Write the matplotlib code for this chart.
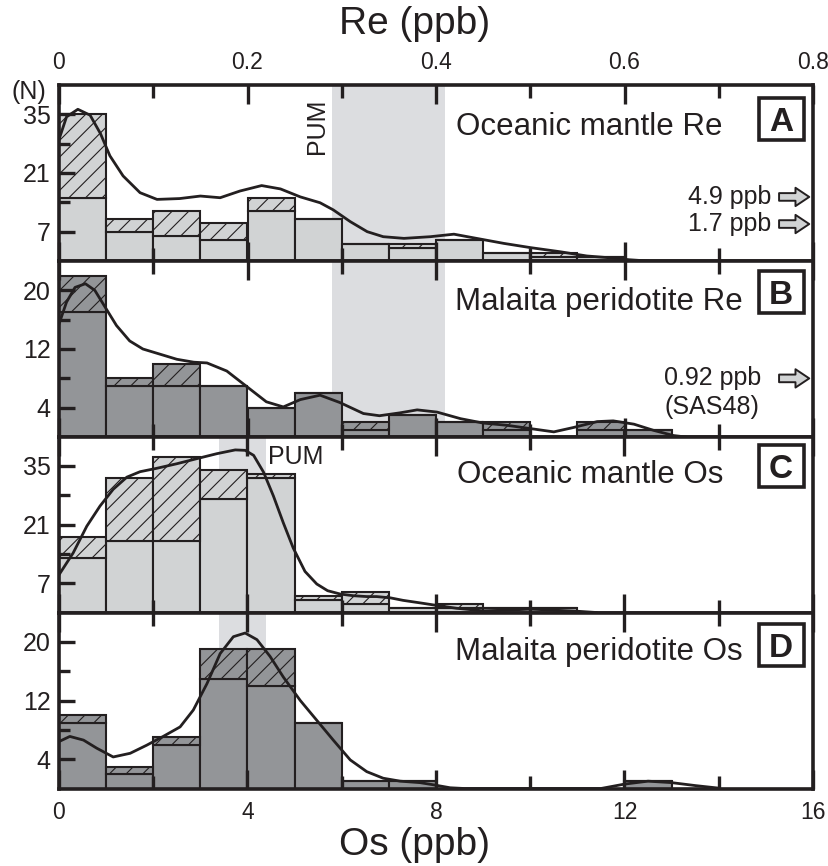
import matplotlib
matplotlib.use("Agg")
import matplotlib.pyplot as plt
from matplotlib.patches import Rectangle

plt.rcParams['font.family'] = ['Liberation Sans', 'DejaVu Sans']
plt.rcParams['hatch.linewidth'] = 0.8
plt.rcParams['hatch.color'] = '#231f20'

INK = '#231f20'
LIGHT = '#d1d3d4'
DARK = '#939598'
BAND = '#dcdde0'

# ---- histogram data (counts per bin) ----
re_left = [0.00, 0.05, 0.10, 0.15, 0.20, 0.25, 0.30, 0.35, 0.40, 0.45, 0.50, 0.55, 0.60, 0.65, 0.70, 0.75]
os_left = [0, 1, 2, 3, 4, 5, 6, 7, 8, 9, 10, 11, 12, 13, 14, 15]

ocean_re_total = [35, 10, 12, 9, 15, 10, 4, 4, 5, 2, 2, 1, 0, 0, 0, 0]
ocean_re_solid = [15, 7, 6, 5, 12, 10, 4, 3, 5, 2, 1, 1, 0, 0, 0, 0]
malaita_re_total = [22, 8, 10, 7, 4, 6, 2, 3, 2, 2, 0, 2, 1, 0, 0, 0]
malaita_re_solid = [17, 7, 7, 7, 4, 6, 1, 3, 2, 1, 0, 1, 1, 0, 0, 0]
ocean_os_total = [18, 32, 37, 34, 33, 4, 5, 1, 2, 1, 1, 0, 0, 0, 0, 0]
ocean_os_solid = [13, 17, 17, 27, 32, 3, 2, 1, 1, 1, 1, 0, 0, 0, 0, 0]
malaita_os_total = [10, 3, 7, 19, 19, 9, 1, 1, 0, 0, 0, 0, 1, 0, 0, 0]
malaita_os_solid = [9, 2, 6, 15, 14, 9, 1, 1, 0, 0, 0, 0, 1, 0, 0, 0]

# ---- density curves ----
ocean_re_kx = [0.0, 0.008, 0.020, 0.033, 0.044, 0.054, 0.068, 0.086, 0.104, 0.128, 0.150, 0.171, 0.192,
               0.215, 0.235, 0.256, 0.277, 0.291, 0.309, 0.327, 0.344, 0.366, 0.394, 0.419, 0.443, 0.472,
               0.500, 0.532, 0.560, 0.588, 0.605, 0.625]
ocean_re_ky = [29.0, 34.4, 36.2, 34.8, 30.4, 25.1, 20.3, 16.3, 14.7, 14.9, 15.5, 15.1, 16.7,
               18.0, 17.2, 15.3, 13.9, 12.2, 9.4, 7.0, 5.8, 5.4, 5.8, 6.4, 5.4, 4.2,
               3.2, 2.2, 1.2, 0.7, 0.3, 0.0]
malaita_re_kx = [0.0, 0.008, 0.017, 0.028, 0.038, 0.049, 0.061, 0.075, 0.089, 0.107, 0.125, 0.143, 0.157,
                 0.178, 0.199, 0.220, 0.238, 0.256, 0.277, 0.298, 0.323, 0.340, 0.362, 0.380, 0.401, 0.426,
                 0.450, 0.475, 0.500, 0.525, 0.546, 0.571, 0.588, 0.610, 0.631, 0.652, 0.665]
malaita_re_ky = [15.4, 18.4, 20.4, 20.9, 20.0, 17.7, 15.2, 13.1, 12.0, 11.3, 10.6, 10.2, 10.1,
                 9.0, 6.9, 4.8, 4.1, 5.1, 5.7, 4.7, 3.2, 2.9, 3.3, 3.7, 3.4, 2.5,
                 1.9, 1.6, 1.15, 0.7, 1.3, 2.1, 2.2, 1.75, 0.9, 0.2, 0.0]
ocean_os_kx = [0.0, 0.30, 0.59, 0.87, 1.15, 1.44, 1.72, 2.07, 2.50, 2.92, 3.35, 3.74, 3.95, 4.13, 4.34,
               4.55, 4.76, 4.97, 5.22, 5.47, 5.70, 5.97, 6.25, 6.53, 6.74, 7.03, 7.30, 7.66, 7.95, 8.44,
               9.0, 9.58, 10.0, 10.42, 11.0, 11.4]
ocean_os_ky = [9.0, 14.2, 20.6, 25.4, 29.4, 32.3, 33.6, 34.4, 35.5, 36.7, 37.9, 38.8, 38.7, 37.5, 33.5,
               27.8, 21.4, 15.4, 9.8, 6.8, 5.2, 4.4, 4.0, 3.8, 3.8, 3.5, 2.9, 2.3, 1.8, 1.0,
               0.4, 0.6, 0.8, 0.6, 0.3, 0.0]
malaita_os_kx = [0.0, 0.23, 0.52, 0.80, 1.15, 1.51, 1.86, 2.21, 2.57, 2.85, 3.14, 3.42, 3.70, 3.95, 4.20,
                 4.48, 4.76, 5.12, 5.47, 5.82, 6.18, 6.53, 6.88, 7.24, 7.66, 7.95, 8.3, 8.6, 11.5, 12.0,
                 12.5, 13.0, 13.5, 14.0]
malaita_os_ky = [6.4, 7.1, 6.6, 5.5, 4.3, 4.8, 5.9, 7.1, 8.4, 10.7, 14.3, 18.4, 20.7, 21.2, 20.3,
                 18.0, 15.2, 12.0, 9.3, 6.6, 3.9, 2.3, 1.4, 1.0, 0.8, 0.5, 0.1, 0.0, 0.0, 0.6,
                 1.0, 0.8, 0.4, 0.05]

re_pum = (0.29, 0.41)
os_pum = (3.4, 4.4)

panels = [
    dict(left=re_left, width=0.05, total=ocean_re_total, solid=ocean_re_solid, fill=LIGHT,
         kx=ocean_re_kx, ky=ocean_re_ky, xlim=(0, 0.8), ylim=(0, 42), yt=[7, 21, 35], ym=[14, 28],
         band=re_pum, title='Oceanic mantle Re', tx=0.8806, ty=0.716, letter='A', ly=0.807),
    dict(left=re_left, width=0.05, total=malaita_re_total, solid=malaita_re_solid, fill=DARK,
         kx=malaita_re_kx, ky=malaita_re_ky, xlim=(0, 0.8), ylim=(0, 24), yt=[4, 12, 20], ym=[8, 16],
         band=re_pum, title='Malaita peridotite Re', tx=0.907, ty=0.721, letter='B', ly=0.823),
    dict(left=os_left, width=1, total=ocean_os_total, solid=ocean_os_solid, fill=LIGHT,
         kx=ocean_os_kx, ky=ocean_os_ky, xlim=(0, 16), ylim=(0, 42), yt=[7, 21, 35], ym=[14, 28],
         band=os_pum, title='Oceanic mantle Os', tx=0.8806, ty=0.734, letter='C', ly=0.832),
    dict(left=os_left, width=1, total=malaita_os_total, solid=malaita_os_solid, fill=DARK,
         kx=malaita_os_kx, ky=malaita_os_ky, xlim=(0, 16), ylim=(0, 24), yt=[4, 12, 20], ym=[8, 16],
         band=os_pum, title='Malaita peridotite Os', tx=0.907, ty=0.730, letter='D', ly=0.815),
]

W, H = 829, 866
fig = plt.figure(figsize=(W / 100, H / 100), dpi=100)
x0, x1 = 59, 813
tops = [85, 261, 436.5, 612.5]
ph = 176

axes = []
for i, p in enumerate(panels):
    ax = fig.add_axes([x0 / W, 1 - (tops[i] + ph) / H, (x1 - x0) / W, ph / H])
    axes.append(ax)
    ax.axvspan(*p['band'], color=BAND, lw=0, zorder=0)
    hatched = [t - s for t, s in zip(p['total'], p['solid'])]
    ax.bar(p['left'], p['solid'], width=p['width'], align='edge', color=p['fill'],
           edgecolor=INK, linewidth=1.5, zorder=1)
    ax.bar(p['left'], hatched, bottom=p['solid'], width=p['width'], align='edge', color=p['fill'],
           edgecolor=INK, linewidth=1.5, hatch='//', zorder=1)
    ax.plot(p['kx'], p['ky'], color=INK, lw=2.0, zorder=3)
    ax.set_xlim(*p['xlim'])
    ax.set_ylim(*p['ylim'])

    span = p['xlim'][1]
    ax.set_xticks([span * k / 4 for k in range(5)])
    ax.set_xticks([span * (2 * k + 1) / 8 for k in range(4)], minor=True)
    ax.set_yticks(p['yt'])
    ax.set_yticks(p['ym'], minor=True)
    ax.tick_params(axis='x', which='both', direction='in', top=True, bottom=True,
                   width=2.4, color=INK, labelbottom=False, labeltop=False)
    ax.tick_params(axis='x', which='major', length=13.5)
    ax.tick_params(axis='x', which='minor', length=9.5)
    ax.tick_params(axis='y', which='both', direction='in', left=True, right=False,
                   width=2.4, color=INK, labelsize=18, labelcolor=INK, pad=6)
    ax.tick_params(axis='y', which='major', length=11.5)
    ax.tick_params(axis='y', which='minor', length=8)
    for s in ax.spines.values():
        s.set_linewidth(2.6)
        s.set_color(INK)
        s.set_zorder(5)

    ax.text(p['tx'], p['ty'], p['title'], transform=ax.transAxes, ha='right', va='baseline',
            fontsize=22.5, color=INK)
    bw, bh = 45 / (x1 - x0), 42 / ph
    ax.add_patch(Rectangle((0.9576 - bw / 2, p['ly'] - bh / 2), bw, bh, transform=ax.transAxes,
                           fill=False, ec=INK, lw=2.6, zorder=6, clip_on=False))
    ax.text(0.9576, p['ly'], p['letter'], transform=ax.transAxes, ha='center', va='center_baseline',
            fontsize=24, fontweight='bold', color=INK, zorder=7)

# top axis (Re) and bottom axis (Os) labels
axes[0].tick_params(axis='x', labeltop=True, labelsize=16.5, labelcolor=INK, pad=8)
axes[0].set_xticklabels(['0', '0.2', '0.4', '0.6', '0.8'])
axes[3].tick_params(axis='x', labelbottom=True, labelsize=16.5, labelcolor=INK, pad=9)
axes[3].set_xticklabels(['0', '4', '8', '12', '16'])

fig.text(415 / W, 1 - 24 / H, 'Re (ppb)', ha='center', va='center', fontsize=28, color=INK)
fig.text(415 / W, 1 - 845 / H, 'Os (ppb)', ha='center', va='center', fontsize=28, color=INK)
fig.text(29 / W, 1 - 92 / H, '(N)', ha='center', va='center', fontsize=18, color=INK)

# PUM labels
axes[0].text(0.2736, 32.2, 'PUM', rotation=90, ha='center', va='center', fontsize=18, color=INK)
axes[2].text(4.44, 37, 'PUM', ha='left', va='center', fontsize=18, color=INK)

# off-scale values
arrow = dict(arrowstyle='simple,head_width=0.6,head_length=0.45,tail_width=0.25',
             fc=LIGHT, ec=INK, lw=1.4, mutation_scale=22, shrinkA=0, shrinkB=0)
for ax, ytxt, txt in [(axes[0], 0.364, '4.9 ppb'), (axes[0], 0.21, '1.7 ppb'), (axes[1], 0.333, '0.92 ppb')]:
    ax.annotate('', xy=(0.995, ytxt), xytext=(0.955, ytxt), xycoords='axes fraction',
                arrowprops=arrow, zorder=6)
    if txt != '0.92 ppb':
        ax.text(0.945, ytxt, txt, transform=ax.transAxes, ha='right', va='center', fontsize=18, color=INK)
axes[1].text(0.803, 0.333, '0.92 ppb', transform=axes[1].transAxes, ha='left', va='center',
             fontsize=18, color=INK)
axes[1].text(0.803, 0.17, '(SAS48)', transform=axes[1].transAxes, ha='left', va='center',
             fontsize=18, color=INK)

fig.savefig('out.png', dpi=100)
